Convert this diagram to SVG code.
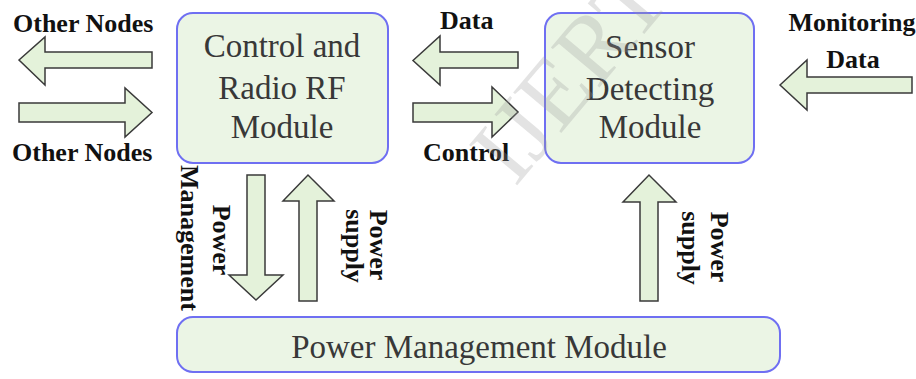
<svg xmlns="http://www.w3.org/2000/svg" width="916" height="379" viewBox="0 0 916 379">
<style>
.box{fill:#ebf5e5;stroke:#6f6ff2;stroke-width:2}
.arr{fill:#e4f2da;stroke:#3a3a3a;stroke-width:1.5;stroke-linejoin:miter}
.mod{font-family:"Liberation Serif","Times New Roman",serif;font-size:33px;fill:#383838;text-anchor:middle}
.lbl{font-family:"Liberation Serif","Times New Roman",serif;font-size:26px;font-weight:bold;fill:#111}
.mid{text-anchor:middle}
.wm{font-family:"Liberation Serif","Times New Roman",serif;font-size:96px;fill:#9a9a9a;fill-opacity:0.28}
</style>
<rect width="916" height="379" fill="#ffffff"/>
<g id="control-module">
<rect class="box" x="177" y="13" width="211" height="150" rx="16"/>
<text class="mod" x="282" y="57">Control and</text>
<text class="mod" x="282" y="99">Radio RF</text>
<text class="mod" x="282" y="138">Module</text>
</g>
<g id="sensor-module">
<rect class="box" x="545" y="13" width="209" height="150" rx="16"/>
<text class="mod" x="650" y="58">Sensor</text>
<text class="mod" x="650" y="100">Detecting</text>
<text class="mod" x="650" y="138">Module</text>
</g>
<g id="power-module">
<rect class="box" x="177" y="317" width="603" height="55" rx="16"/>
<text class="mod" x="479" y="358">Power Management Module</text>
</g>
<g id="connectors">
<polygon class="arr" points="19,60 45,37 45,52 152,52 152,68 45,68 45,85"/>
<polygon class="arr" points="19,103 125,103 125,88 152,112.5 125,137 125,122 19,122"/>
<polygon class="arr" points="413,60.5 440,36 440,52 518,52 518,68 440,68 440,85"/>
<polygon class="arr" points="413,103 492,103 492,87 518,112 492,137 492,122 413,122"/>
<polygon class="arr" points="780,85 807,60 807,77 912,77 912,93 807,93 807,110"/>
<polygon class="arr" points="247,175 265,175 265,275 283,275 256,300 229,275 247,275"/>
<polygon class="arr" points="299,301 317,301 317,201 334,201 308,175 283,201 299,201"/>
<polygon class="arr" points="640,301 658,301 658,202 676,202 649,175 623,202 640,202"/>
</g>
<g id="labels">
<text class="lbl" x="13" y="32">Other Nodes</text>
<text class="lbl" x="12" y="161">Other Nodes</text>
<text class="lbl" x="440" y="29">Data</text>
<text class="lbl" x="423" y="161">Control</text>
<text class="lbl mid" x="852" y="31">Monitoring</text>
<text class="lbl mid" x="853" y="68">Data</text>
<text class="lbl mid" transform="translate(181,238) rotate(90)">Management</text>
<text class="lbl mid" transform="translate(213,240) rotate(90)">Power</text>
<text class="lbl mid" transform="translate(370,245) rotate(90)">Power</text>
<text class="lbl mid" transform="translate(346,246) rotate(90)">supply</text>
<text class="lbl mid" transform="translate(711,247) rotate(90)">Power</text>
<text class="lbl mid" transform="translate(682,248) rotate(90)">supply</text>
</g>
<text class="wm" transform="translate(515,188) rotate(-50)">IJERT</text>
</svg>
